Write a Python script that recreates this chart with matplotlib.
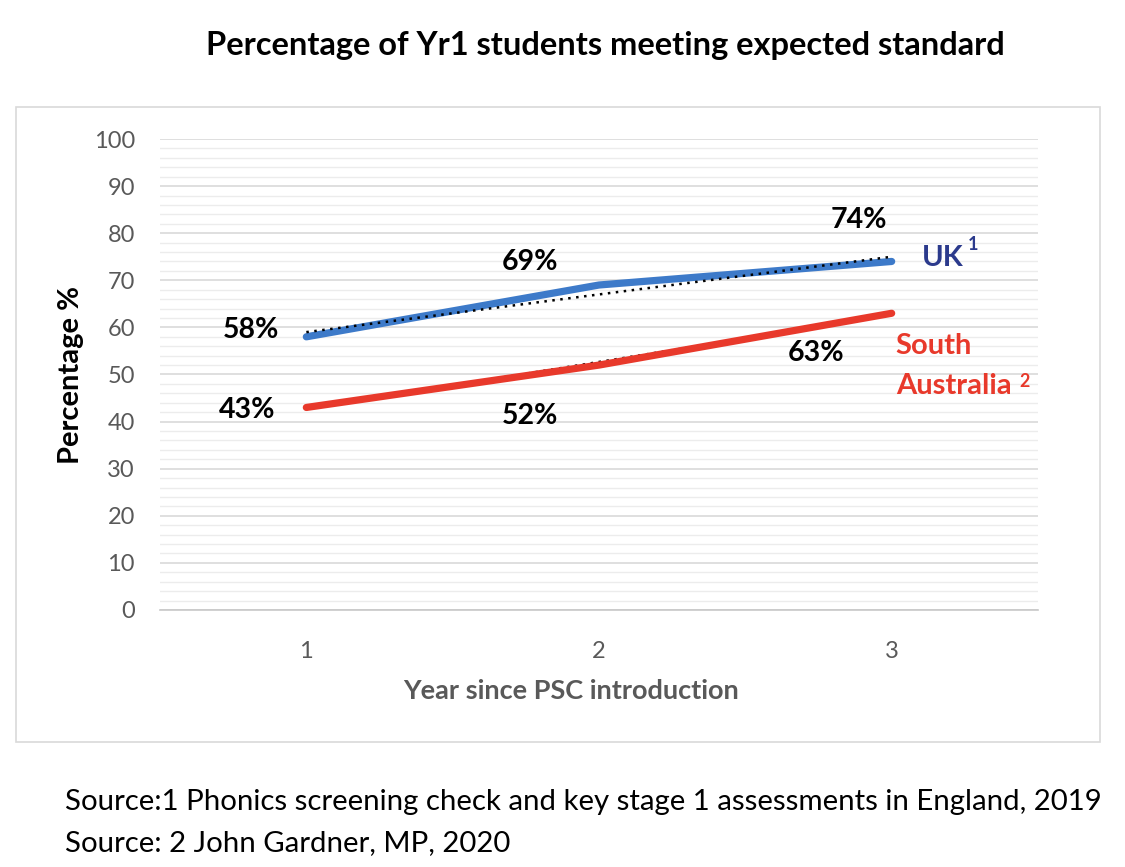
import matplotlib
matplotlib.use("Agg")
import matplotlib.pyplot as plt
import numpy as np
from matplotlib.patches import Rectangle

years = [1, 2, 3]
uk = [58, 69, 74]
sa = [43, 52, 63]
uk_labels = ["58%", "69%", "74%"]
sa_labels = ["43%", "52%", "63%"]
yticks = [0, 10, 20, 30, 40, 50, 60, 70, 80, 90, 100]

plt.rcParams['font.family'] = ['Lato', 'DejaVu Sans']

W, H = 1125, 867
fig = plt.figure(figsize=(W / 100, H / 100), dpi=100)

# chart area border
fig.patches.append(Rectangle((16 / W, 1 - 742 / H), (1100 - 16) / W, (742 - 107) / H,
                             transform=fig.transFigure, fill=False, edgecolor='#d9d9d9', lw=1.2))

ax = fig.add_axes([160 / W, 1 - 610 / H, (1038 - 160) / W, (610 - 139) / H])
ax.set_xlim(0.5, 3.5)
ax.set_ylim(0, 100)
ax.set_yticks(yticks)
ax.set_yticks(np.arange(0, 101, 2), minor=True)
ax.set_xticks(years)
ax.grid(axis='y', which='major', color='#d9d9d9', lw=1.2)
ax.grid(axis='y', which='minor', color='#ececec', lw=1.0)
ax.set_axisbelow(True)
for s in ['top', 'right', 'left']:
    ax.spines[s].set_visible(False)
ax.spines['bottom'].set_color('#c8c8c8')
ax.spines['bottom'].set_linewidth(1.2)
ax.tick_params(axis='both', which='both', length=0, labelsize=17, labelcolor='#595959')
ax.tick_params(axis='y', pad=18)
ax.tick_params(axis='x', pad=22)

# SA trendline hidden behind the line
p_sa = np.polyfit(years, sa, 1)
ax.plot(years, np.polyval(p_sa, years), color='black', lw=1.8, ls=(0, (1, 2.2)), zorder=2)

ax.plot(years, uk, color='#3d7ac9', lw=5.2, solid_capstyle='round', zorder=3)
ax.plot(years, sa, color='#e8392b', lw=5.2, solid_capstyle='round', zorder=3)

p_uk = np.polyfit(years, uk, 1)
ax.plot(years, np.polyval(p_uk, years), color='black', lw=1.8, ls=(0, (1, 2.2)), zorder=4)

uk_off = [(-55, 7), (-69, 23), (-33, 41)]
sa_off = [(-59, -3), (-69, -51), (-76, -40)]
for x, y, t, o in zip(years, uk, uk_labels, uk_off):
    ax.annotate(t, (x, y), xytext=o, textcoords='offset pixels', ha='center', va='center',
                fontsize=20.5, fontweight='bold', color='black')
for x, y, t, o in zip(years, sa, sa_labels, sa_off):
    ax.annotate(t, (x, y), xytext=o, textcoords='offset pixels', ha='center', va='center',
                fontsize=20.5, fontweight='bold', color='black')

ax.annotate("UK", (3, uk[-1]), xytext=(30, 3), textcoords='offset pixels', ha='left', va='center',
            fontsize=21, fontweight='bold', color='#2b3a8c')
ax.annotate("1", (3, uk[-1]), xytext=(76, 17), textcoords='offset pixels', ha='left', va='center',
            fontsize=13, fontweight='bold', color='#2b3a8c')
ax.annotate("South\nAustralia", (3, sa[-1]), xytext=(4, -53), textcoords='offset pixels',
            ha='left', va='center', fontsize=21, fontweight='bold', color='#e8392b', linespacing=1.65)
ax.annotate("2", (3, sa[-1]), xytext=(128, -68), textcoords='offset pixels', ha='left', va='center',
            fontsize=13, fontweight='bold', color='#e8392b')

ax.set_ylabel("Percentage %", fontsize=21, fontweight='bold', color='black')
ax.yaxis.set_label_coords((71 - 160) / 878, 0.5)
ax.set_xlabel("Year since PSC introduction", fontsize=19.5, fontweight='bold', color='#595959')
ax.xaxis.set_label_coords((571 - 160) / 878, (610 - 691) / 471)
ax.xaxis.label.set_va('center')
ax.yaxis.label.set_va('center')

fig.text(605 / W, 1 - 45 / H, "Percentage of Yr1 students meeting expected standard",
         ha='center', va='center', fontsize=23.5, fontweight='bold', color='black')
fig.text(65 / W, 1 - 802 / H, "Source:1 Phonics screening check and key stage 1 assessments in England, 2019",
         ha='left', va='center', fontsize=21.2, color='black')
fig.text(65 / W, 1 - 843 / H, "Source: 2 John Gardner, MP, 2020",
         ha='left', va='center', fontsize=21.2, color='black')

fig.savefig("out.png", dpi=100)
